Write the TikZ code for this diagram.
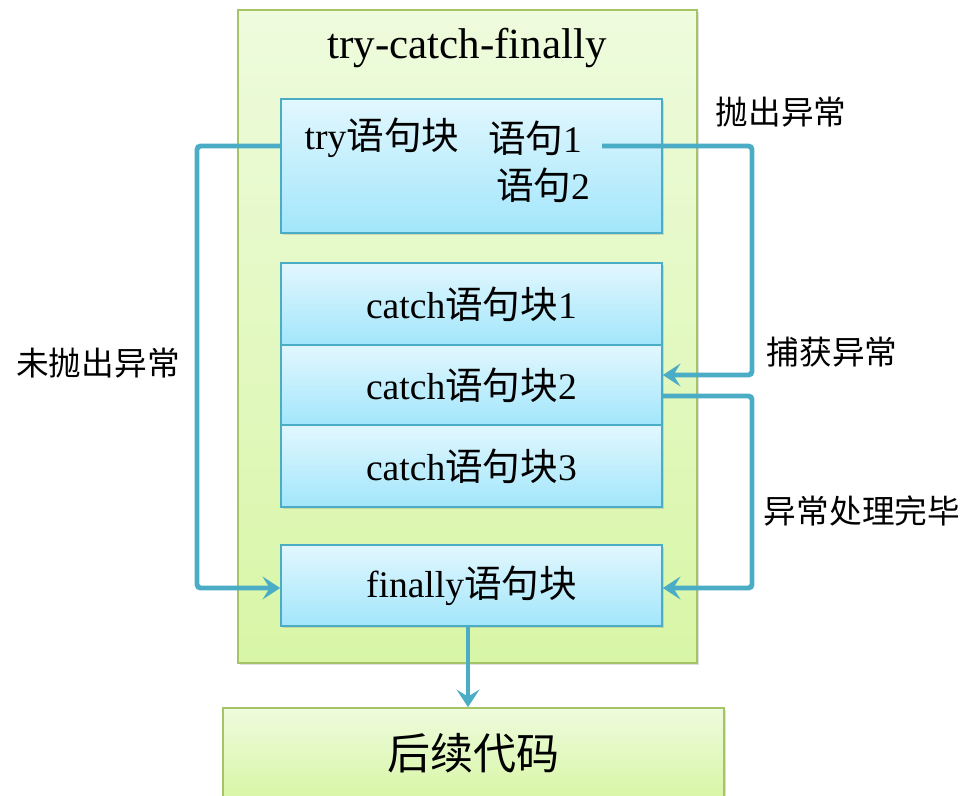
\documentclass[tikz,border=0pt]{standalone}
\usepackage{fontspec}
\setmainfont{Liberation Serif}
\newfontfamily\cjk{Noto Sans CJK SC}
\usepackage{tikz}
\usetikzlibrary{arrows.meta,shadows}
\definecolor{flowblue}{HTML}{4BACC6}
\definecolor{boxtop}{HTML}{E2F7FE}
\definecolor{boxbot}{HTML}{A2E6FB}
\definecolor{greentop}{HTML}{EEFBDD}
\definecolor{greenbot}{HTML}{D8F6A6}
\definecolor{greenline}{HTML}{A5C467}
\newcommand{\zh}[1]{{\cjk #1}}

\begin{document}
\begin{tikzpicture}[x=0.02cm,y=-0.02cm,
    box/.style={draw=flowblue, line width=1pt, top color=boxtop, bottom color=boxbot,
        minimum width=7.62cm, inner sep=0pt,
        drop shadow={opacity=0.25, shadow xshift=1.2pt, shadow yshift=-1.2pt},
        font=\fontsize{21.4}{24}\selectfont},
    greenbox/.style={draw=greenline, line width=1pt, top color=greentop, bottom color=greenbot,
        inner sep=0pt, drop shadow={opacity=0.25, shadow xshift=1.2pt, shadow yshift=-1.2pt}},
    note/.style={font=\cjk\fontsize{18.6}{22}\selectfont, inner sep=0pt},
    flow/.style={draw=flowblue, line width=2.8pt, rounded corners=2pt,
        -{Stealth[length=10pt,width=13pt,inset=4pt]}}]
            \clip (0,0) rectangle (974,795);
            \node[greenbox, minimum width=9.18cm, minimum height=13.06cm] (outer) at (467.5,336.5) {};
            \node[font=\fontsize{24.5}{28}\selectfont] (title) at (467,48) {try-catch-finally};
            \node[box, minimum height=2.68cm] (try) at (471.5,166) {};
            \node[font=\fontsize{21.4}{24}\selectfont, inner sep=0pt] (trytxt) at (382,138) {try\zh{语句块}};
            \node[font=\fontsize{21.4}{24}\selectfont, inner sep=0pt] (s1) at (535,138) {\zh{语句}1};
            \node[font=\fontsize{21.4}{24}\selectfont, inner sep=0pt] (s2) at (543,185) {\zh{语句}2};
            \node[box, minimum height=1.64cm] (catch1) at (471.5,304) {catch\zh{语句块}1};
            \node[box, minimum height=1.6cm]  (catch2) at (471.5,385) {catch\zh{语句块}2};
            \node[box, minimum height=1.64cm] (catch3) at (471.5,466) {catch\zh{语句块}3};
            \node[box, minimum height=1.62cm] (finally) at (471.5,585.5) {finally\zh{语句块}};
            \node[greenbox, minimum width=10.02cm, minimum height=1.8cm,
                font=\cjk\fontsize{24.5}{28}\selectfont] (next) at (473.5,753) {后续代码};
            \coordinate (lt) at (197,146);
            \coordinate (lb) at (197,588);
            \coordinate (tx) at (602,146);
            \coordinate (rt) at (752,146);
            \coordinate (rm) at (752,375);
            \coordinate (rn) at (752,396);
            \coordinate (rb) at (752,588);
            \draw[flow] (try.west |- lt) -- (lt) -- (lb) -- (finally.west |- lb);
            \draw[flow] (tx) -- (rt) -- (rm) -- (catch2.east |- rm);
            \draw[flow] (catch2.east |- rn) -- (rn) -- (rb) -- (finally.east |- rb);
            \draw[flow] (finally.south -| 468,0) -- (next.north -| 468,0);
            \node[note] (thrown) at (781,112) {抛出异常};
            \node[note] (caught) at (832,352) {捕获异常};
            \node[note] (handled) at (862,511) {异常处理完毕};
            \node[note] (notthrown) at (98,363) {未抛出异常};
        \end{tikzpicture}
\end{document}
